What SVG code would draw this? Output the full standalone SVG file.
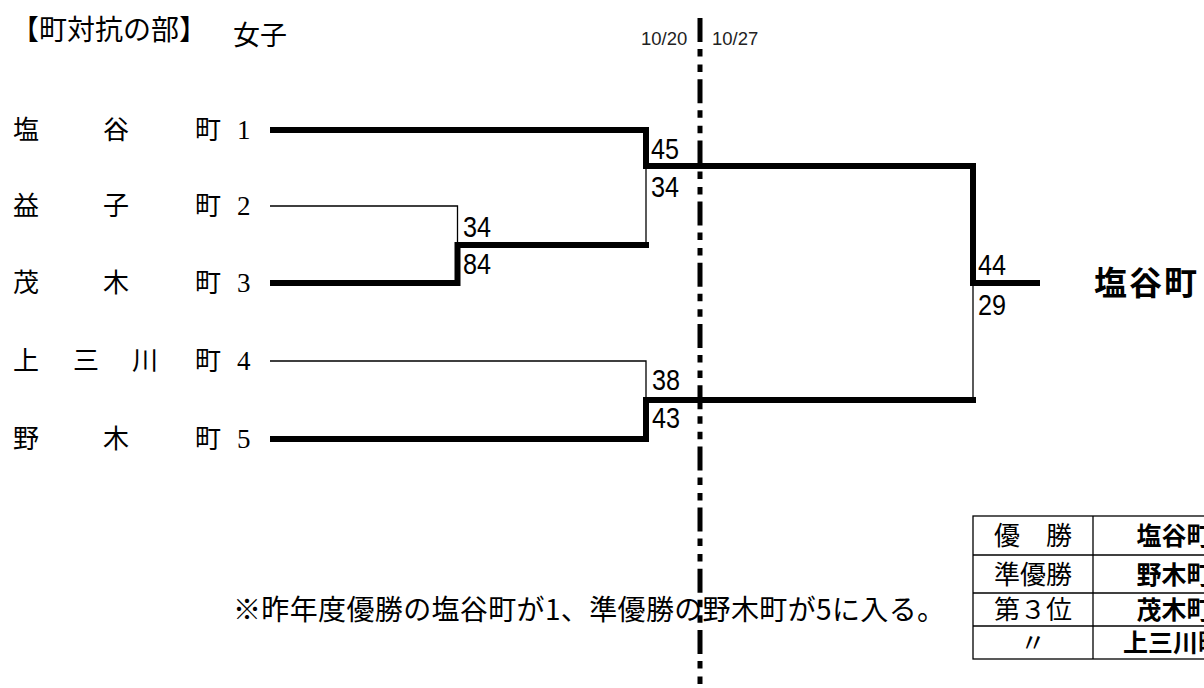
<svg xmlns="http://www.w3.org/2000/svg" width="1204" height="688" viewBox="0 0 1204 688">
<style>
.jp{font-family:"Noto Sans CJK JP","Noto Sans CJK SC",sans-serif;fill:#000}
.lab{font-size:26px}
.num{font-family:"Liberation Serif",serif;font-size:27px;fill:#000}
.sc{font-family:"Liberation Sans",Arial,sans-serif;font-size:29px;fill:#000}
.thick{stroke:#000;stroke-width:6;fill:none;stroke-linecap:square}
.thin{stroke:#000;stroke-width:1.3;fill:none}
.tb{stroke:#000;stroke-width:1.3;fill:none}
.date{font-family:"Liberation Sans",Arial,sans-serif;font-size:18.5px;fill:#222}
</style>
<rect width="1204" height="688" fill="#fff"/>
<g id="title">
<text class="jp" x="11" y="40" font-size="28">【町対抗の部】</text>
<text class="jp" x="233" y="45" font-size="27">女子</text>
</g>
<g id="dates">
<text class="date" x="641" y="45">10/20</text>
<text class="date" x="712" y="45">10/27</text>
</g>
<g id="divider">
<line x1="700" y1="12" x2="700" y2="688" stroke="#000" stroke-width="5" stroke-dasharray="24 7 7.5 8 7.5 7.2" stroke-dashoffset="-6"/>
</g>
<g id="team1"><text class="jp lab" y="139"><tspan x="13">塩</tspan><tspan x="103">谷</tspan><tspan x="195">町</tspan></text><text class="num" x="237" y="139">1</text></g>
<g id="team2"><text class="jp lab" y="215"><tspan x="13">益</tspan><tspan x="103">子</tspan><tspan x="195">町</tspan></text><text class="num" x="237" y="215">2</text></g>
<g id="team3"><text class="jp lab" y="292"><tspan x="13">茂</tspan><tspan x="103">木</tspan><tspan x="195">町</tspan></text><text class="num" x="237" y="292">3</text></g>
<g id="team4"><text class="jp lab" y="370"><tspan x="13">上</tspan><tspan x="73">三</tspan><tspan x="132">川</tspan><tspan x="195">町</tspan></text><text class="num" x="237" y="370">4</text></g>
<g id="team5"><text class="jp lab" y="448"><tspan x="13">野</tspan><tspan x="103">木</tspan><tspan x="195">町</tspan></text><text class="num" x="237" y="448">5</text></g>
<g id="connectors">
<path class="thin" d="M270 206 H457.5 V245"/>
<path class="thick" d="M273 283 H457.5 V245 H646"/>
<path class="thin" d="M646 245 V166"/>
<path class="thick" d="M273 130 H646 V166 H973 V283 H1037"/>
<path class="thin" d="M270 361 H646 V400"/>
<path class="thick" d="M273 439 H646 V400 H973"/>
<path class="thin" d="M973 400 V283"/>
</g>
<g id="scores">
<text class="sc" x="651" y="158.5" textLength="28" lengthAdjust="spacingAndGlyphs">45</text>
<text class="sc" x="651" y="197" textLength="28" lengthAdjust="spacingAndGlyphs">34</text>
<text class="sc" x="463" y="236.5" textLength="28" lengthAdjust="spacingAndGlyphs">34</text>
<text class="sc" x="463" y="274" textLength="28" lengthAdjust="spacingAndGlyphs">84</text>
<text class="sc" x="652" y="390" textLength="28" lengthAdjust="spacingAndGlyphs">38</text>
<text class="sc" x="652" y="428" textLength="28" lengthAdjust="spacingAndGlyphs">43</text>
<text class="sc" x="978" y="275" textLength="28" lengthAdjust="spacingAndGlyphs">44</text>
<text class="sc" x="978" y="315" textLength="28" lengthAdjust="spacingAndGlyphs">29</text>
</g>
<g id="winner">
<text class="jp" x="1094" y="295" font-size="33" font-weight="bold" letter-spacing="2">塩谷町</text>
</g>
<g id="note">
<text class="jp" x="233" y="620" font-size="28" textLength="712" lengthAdjust="spacing">※昨年度優勝の塩谷町が1、準優勝の野木町が5に入る。</text>
</g>
<g id="results">
<rect class="tb" x="973" y="516" width="300" height="143"/>
<line class="tb" x1="1093" y1="516" x2="1093" y2="659"/>
<line class="tb" x1="973" y1="555" x2="1273" y2="555"/>
<line class="tb" x1="973" y1="593" x2="1273" y2="593"/>
<line class="tb" x1="973" y1="626" x2="1273" y2="626"/>
<g class="jp" font-size="26" text-anchor="middle">
<text x="1033" y="545">優　勝</text>
<text x="1033" y="583.5">準優勝</text>
<text x="1033" y="619">第３位</text>
<text x="1033" y="652">〃</text>
</g>
<g class="jp" font-size="25" font-weight="bold" text-anchor="middle">
<text x="1174" y="545">塩谷町</text>
<text x="1174" y="583.5">野木町</text>
<text x="1174" y="619">茂木町</text>
<text x="1173" y="652">上三川町</text>
</g>
</g>
</svg>
